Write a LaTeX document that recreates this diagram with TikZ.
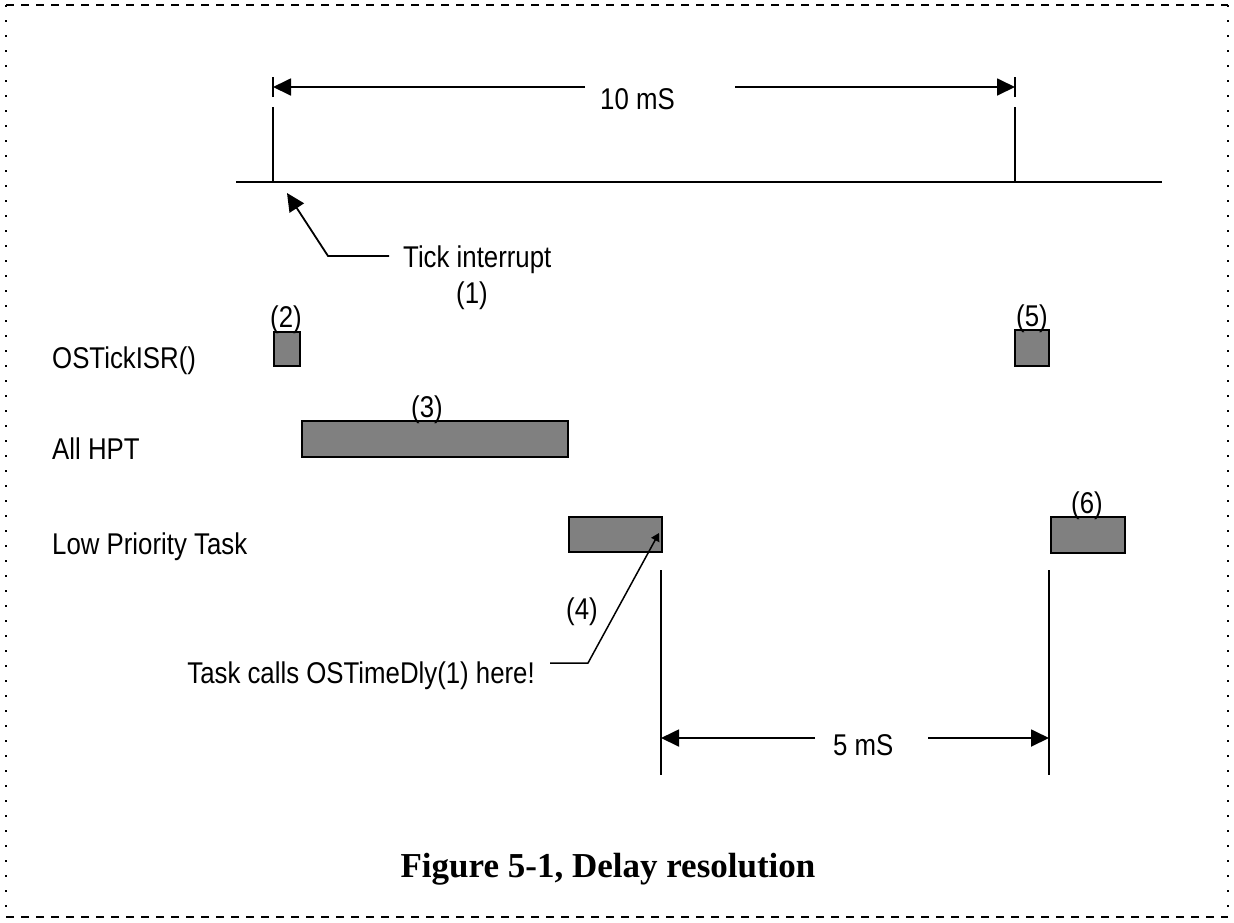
\documentclass[tikz,border=0pt]{standalone}
\usepackage{fontspec}
\usetikzlibrary{arrows.meta}
\newfontfamily\labfont{Liberation Sans}[FakeStretch=0.86]
\newfontfamily\capfont{Liberation Serif}
\definecolor{boxgray}{RGB}{128,128,128}
\tikzset{
  lab/.style={font=\labfont\fontsize{30}{35}\selectfont, inner sep=0pt},
  taskbox/.style={draw=black, line width=1.6pt, fill=boxgray, inner sep=0pt, anchor=north west},
  ln/.style={line width=1.8pt, black},
  bigtip/.style={-{Triangle[length=18,width=17]}},
  smalltip/.style={-{Triangle[length=8,width=9]}},
  dashedge/.style={line width=2pt, dash pattern=on 8 off 7},
  dotedge/.style={line width=2pt, dash pattern=on 2 off 13},
}
\begin{document}
\begin{tikzpicture}[x=1pt,y=-1pt]
\useasboundingbox (0,0) rectangle (1234,922);
% frame
\coordinate (fTL) at (6,5);
\coordinate (fTR) at (1228,5);
\coordinate (fBL) at (6,917);
\coordinate (fBR) at (1228,917);
\draw[dashedge] (fTL) -- (fTR);
\draw[dashedge] (fBL) -- (fBR);
\draw[dotedge] (fTL) -- (fBL);
\draw[dotedge] (fTR) -- (fBR);
% time line and ticks
\coordinate (tlL) at (236,182);
\coordinate (tlR) at (1162,182);
\draw[ln] (tlL) -- (tlR);
\coordinate (tk0b) at (273,182);
\coordinate (tk0t) at (273,107);
\coordinate (tk1b) at (1015,182);
\coordinate (tk1t) at (1015,107);
\draw[ln] (tk0b) -- (tk0t);
\draw[ln] (tk1b) -- (tk1t);
% 10 mS dimension
\coordinate (dA) at (273,87);
\coordinate (dAm) at (585,87);
\coordinate (dBm) at (735,87);
\coordinate (dB) at (1015,87);
\node[lab, anchor=base west] (tenms) at (600,109) {10 mS};
\draw[ln, bigtip] (dAm) -- (dA);
\draw[ln, bigtip] (dBm) -- (dB);
\draw[ln] ([yshift=-10pt]dA) -- ([yshift=10pt]dA);
\draw[ln] ([yshift=-10pt]dB) -- ([yshift=10pt]dB);
% tick interrupt
\node[lab, anchor=base west] (tick) at (403,267) {Tick interrupt};
\node[lab] (n1) at (472,296) {(1)};
\coordinate (tiE) at (389,256);
\coordinate (tiK) at (328,256);
\coordinate (tiT) at (287,193);
\draw[ln, bigtip] (tiE) -- (tiK) -- (tiT);
% row labels
\node[lab, anchor=base west] (rISR) at (52,368) {OSTickISR()};
\node[lab, anchor=base west] (rHPT) at (52,459) {All HPT};
\node[lab, anchor=base west] (rLPT) at (52,554) {Low Priority Task};
% boxes
\node[taskbox, minimum width=26, minimum height=34] (b2) at (273,331) {};
\node[taskbox, minimum width=266, minimum height=36] (b3) at (301,420) {};
\node[taskbox, minimum width=93, minimum height=35] (b4) at (568,516) {};
\node[taskbox, minimum width=34, minimum height=36] (b5) at (1014,329) {};
\node[taskbox, minimum width=74, minimum height=36] (b6) at (1050,516) {};
\node[lab] (n2) at (286,320) {(2)};
\node[lab] (n3) at (427,410) {(3)};
\node[lab] (n5) at (1032,319) {(5)};
\node[lab] (n6) at (1087,506) {(6)};
% delay markers
\coordinate (vAt) at (661,570);
\coordinate (vAb) at (661,775);
\coordinate (vBt) at (1049,570);
\coordinate (vBb) at (1049,775);
\draw[ln] (vAt) -- (vAb);
\draw[ln] (vBt) -- (vBb);
\coordinate (eA) at (661,738);
\coordinate (eAm) at (815,738);
\coordinate (eBm) at (928,738);
\coordinate (eB) at (1049,738);
\draw[ln, bigtip] (eAm) -- (eA);
\draw[ln, bigtip] (eBm) -- (eB);
\node[lab, anchor=base west] (fivems) at (833,755) {5 mS};
% task calls
\node[lab] (n4) at (582,612) {(4)};
\node[lab, anchor=base east] (tcall) at (535,683) {Task calls OSTimeDly(1) here!};
\coordinate (tcE) at (550,663);
\coordinate (tcK) at (588,663);
\coordinate (tcT) at (659,533);
\draw[line width=1.5pt, smalltip] (tcE) -- (tcK) -- (tcT);
% caption
\node[font=\capfont\bfseries\fontsize{35}{40}\selectfont, inner sep=0pt, anchor=base] (cap) at (608,877) {Figure 5-1, Delay resolution};
\end{tikzpicture}
\end{document}
